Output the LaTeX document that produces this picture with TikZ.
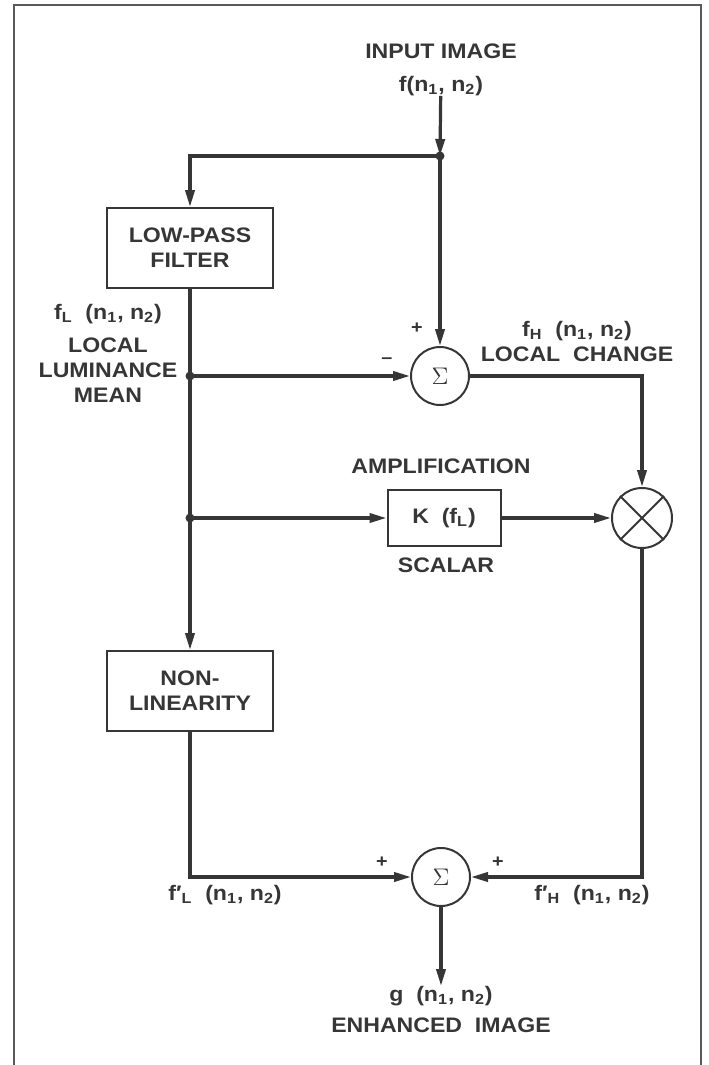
\documentclass[tikz,border=0pt]{standalone}
\usepackage{fontspec}
\setmainfont{Liberation Sans}[FakeStretch=1.1]
\usepackage{xcolor}
\usetikzlibrary{arrows.meta,positioning}
\definecolor{ink}{HTML}{363636}
\definecolor{framegray}{HTML}{5A5A5A}
\newcommand\diagfont{\fontsize{10.5}{12.5}\selectfont\bfseries}
\newcommand\sgnfont{\fontsize{9}{9}\selectfont\bfseries}
\tikzset{
  block/.style={
    rectangle,
    draw=ink,
    line width=1pt,
    minimum width=83pt,
    minimum height=40pt,
    align=center,
    text=ink,
    font=\diagfont
  },
  gainbox/.style={
    block,
    minimum width=56.5pt,
    minimum height=28pt
  },
  summer/.style={
    circle,
    draw=ink,
    line width=1pt,
    minimum size=29pt,
    inner sep=0pt,
    text=ink,
    font=\fontsize{12}{12}\selectfont
  },
  lbl/.style={
    inner sep=0pt,
    align=center,
    text=ink,
    font=\diagfont
  },
  sgn/.style={inner sep=0pt, text=ink, font=\sgnfont},
  dot/.style={circle, fill=ink, inner sep=0pt, minimum size=4.5pt},
  arrow/.style={-{Triangle[length=8.5pt,width=4.6pt]}, line width=1.6pt, draw=ink}
}

\begin{document}
\begin{tikzpicture}[x=0.5pt,y=-0.5pt]

\useasboundingbox (0,0) rectangle (708,1065);
\draw[framegray, line width=1pt] (14,1065) -- (14,5) -- (701,5) -- (701,1065);

% blocks
\node[block] (lowpass) at (190,248) {LOW-PASS\\FILTER};
\node[summer] (sumhi) at (440,376) {$\Sigma$};
\node[gainbox] (gain) at (444,518) {K\ \ (f\textsubscript{L})};
\node[summer, minimum size=30pt] (mult) at (642,518) {};
\node[block] (nonlin) at (190,691) {NON-\\LINEARITY};
\node[summer] (sumout) at (441,877) {$\Sigma$};

\draw[line width=1pt, draw=ink] (mult.north west) -- (mult.south east);
\draw[line width=1pt, draw=ink] (mult.north east) -- (mult.south west);

% labels
\node[lbl, anchor=north] (input) at (441,43) {INPUT IMAGE\\[4pt]f(n\textsubscript{1},\ n\textsubscript{2})};
\node[lbl, anchor=north] (meanlbl) at (108,304) {f\textsubscript{L}\ \ (n\textsubscript{1},\ n\textsubscript{2})\\[4pt]LOCAL\\LUMINANCE\\MEAN};
\node[lbl, anchor=north] (changelbl) at (577,321) {f\textsubscript{H}\ \ (n\textsubscript{1},\ n\textsubscript{2})\\LOCAL\ \ CHANGE};
\node[lbl, anchor=base] (amplbl) at (441,473) {AMPLIFICATION};
\node[lbl, anchor=base] (scalarlbl) at (446,572) {SCALAR};
\node[lbl, anchor=base] (lprime) at (225,900) {f′\textsubscript{L}\ \ (n\textsubscript{1},\ n\textsubscript{2})};
\node[lbl, anchor=base] (hprime) at (592,900) {f′\textsubscript{H}\ \ (n\textsubscript{1},\ n\textsubscript{2})};
\node[lbl, anchor=north] (output) at (441,986) {g\ \ (n\textsubscript{1},\ n\textsubscript{2})\\[3pt]ENHANCED\ \ IMAGE};

\node[sgn] (plusa) at (417,328) {+};
\node[sgn] (minusa) at (387,361) {\textendash};
\node[sgn] (plusb) at (382,862) {+};
\node[sgn] (plusc) at (498,862) {+};

% junctions
\coordinate (split) at (440,156);
\coordinate (jmean) at (lowpass.south |- sumhi.west);
\coordinate (jgain) at (lowpass.south |- gain.west);

% connectors
\draw[arrow] (input) -- (split);
\draw[arrow] (split) -| (lowpass);
\draw[arrow] (split) -- (sumhi);
\draw[arrow] (lowpass) -- (nonlin);
\draw[arrow] (jmean) -- (sumhi);
\draw[arrow] (jgain) -- (gain);
\draw[arrow] (gain) -- (mult);
\draw[arrow] (sumhi.east) -| (mult.north);
\draw[arrow] (nonlin.south) |- (sumout.west);
\draw[arrow] (mult.south) |- (sumout.east);
\draw[arrow] (sumout) -- (output);

\node[dot] at (split) {};
\node[dot] at (jmean) {};
\node[dot] at (jgain) {};

\end{tikzpicture}
\end{document}
